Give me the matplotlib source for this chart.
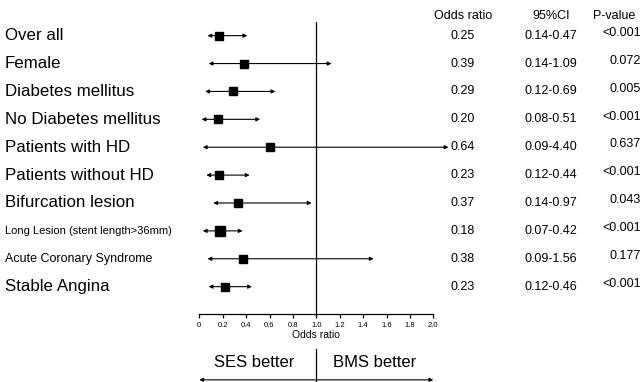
import matplotlib
matplotlib.use("Agg")
import matplotlib.pyplot as plt
from matplotlib.transforms import blended_transform_factory

plt.rcParams['font.family'] = ['Liberation Sans', 'DejaVu Sans']

# subgroups, top to bottom
groups = ["Over all", "Female", "Diabetes mellitus", "No Diabetes mellitus",
          "Patients with HD", "Patients without HD", "Bifurcation lesion",
          "Long Lesion (stent length>36mm)", "Acute Coronary Syndrome", "Stable Angina"]
# positions of the drawn marks
point = [0.17, 0.38, 0.29, 0.16, 0.60, 0.17, 0.33, 0.18, 0.37, 0.22]
lower = [0.07, 0.08, 0.05, 0.02, 0.03, 0.06, 0.12, 0.03, 0.07, 0.08]
upper = [0.41, 1.13, 0.65, 0.52, 2.13, 0.43, 0.96, 0.37, 1.49, 0.45]
# table text
or_text = ["0.25", "0.39", "0.29", "0.20", "0.64", "0.23", "0.37", "0.18", "0.38", "0.23"]
ci_text = ["0.14-0.47", "0.14-1.09", "0.12-0.69", "0.08-0.51", "0.09-4.40",
           "0.12-0.44", "0.14-0.97", "0.07-0.42", "0.09-1.56", "0.12-0.46"]
p_text = ["<0.001", "0.072", "0.005", "<0.001", "0.637",
          "<0.001", "0.043", "<0.001", "0.177", "<0.001"]
ticks = [0, 0.2, 0.4, 0.6, 0.8, 1.0, 1.2, 1.4, 1.6, 1.8, 2.0]
tick_labels = ["0", "0.2", "0.4", "0.6", "0.8", "1.0", "1.2", "1.4", "1.6", "1.8", "2.0"]

small_label_size = {"Long Lesion (stent length>36mm)": 8, "Acute Coronary Syndrome": 9}

W, H = 640, 382
fig = plt.figure(figsize=(6.4, 3.82), dpi=100)
ax = fig.add_axes([199.3 / W, (H - 313.7) / H, 234 / W, (313.7 - 22) / H])

ax.set_xlim(0, 2)
ax.set_ylim(9.97, -0.49)
for s in ['top', 'right', 'left']:
    ax.spines[s].set_visible(False)
ax.spines['bottom'].set_linewidth(0.9)
ax.set_yticks([])
ax.set_xticks(ticks)
ax.set_xticklabels(tick_labels, fontsize=5.5)
ax.tick_params(axis='x', direction='out', length=3.2, width=0.9, pad=3)
ax.set_xlabel("Odds ratio", fontsize=7.5, labelpad=0.5)

ax.axvline(1.0, color='black', lw=0.9)

rows = list(range(len(groups)))
for i in rows:
    ax.annotate('', xy=(upper[i], i), xytext=(lower[i], i),
                arrowprops=dict(arrowstyle='<|-|>', color='black', lw=0.8,
                                mutation_scale=5.5, shrinkA=0, shrinkB=0),
                annotation_clip=False)
    ms = 7 if groups[i].startswith("Long") else 6
    ax.plot(point[i], i, marker='s', color='black', markersize=ms, zorder=5,
            clip_on=False)

# left labels
lt = blended_transform_factory(fig.transFigure, ax.transData)
for i, g in zip(rows, groups):
    ax.text(5 / W, i, g, transform=lt, ha='left', va='center',
            fontsize=small_label_size.get(g, 12.2))

# table on the right
ax.text(463 / W, (H - 16) / H, "Odds ratio", transform=fig.transFigure,
        ha='center', va='center', fontsize=9)
ax.text(551 / W, (H - 16) / H, "95%CI", transform=fig.transFigure,
        ha='center', va='center', fontsize=9)
ax.text(593 / W, (H - 16) / H, "P-value", transform=fig.transFigure,
        ha='left', va='center', fontsize=9)
for i in rows:
    ax.text(463 / W, i, or_text[i], transform=lt, ha='center', va='center', fontsize=9)
    ax.text(551 / W, i, ci_text[i], transform=lt, ha='center', va='center', fontsize=9)
    ax.annotate(p_text[i], xy=(641 / W, i), xycoords=lt, xytext=(0, 2),
                textcoords='offset points', ha='right', va='center', fontsize=9)

# bottom favour panel
bx = fig.add_axes([199.3 / W, 0, 234 / W, 36 / H])
bx.set_xlim(0, 2)
bx.set_ylim(0, 1)
bx.axis('off')
bx.plot([1, 1], [0, 0.92], color='black', lw=0.9, clip_on=False)
bx.annotate('', xy=(2, 0.06), xytext=(0, 0.06),
            arrowprops=dict(arrowstyle='<|-|>', color='black', lw=0.8,
                            mutation_scale=5.5, shrinkA=0, shrinkB=0),
            annotation_clip=False)
bx.text(0.47, 0.53, "SES better", ha='center', va='center', fontsize=12)
bx.text(1.5, 0.53, "BMS better", ha='center', va='center', fontsize=12)

fig.savefig("out.png", dpi=100)
